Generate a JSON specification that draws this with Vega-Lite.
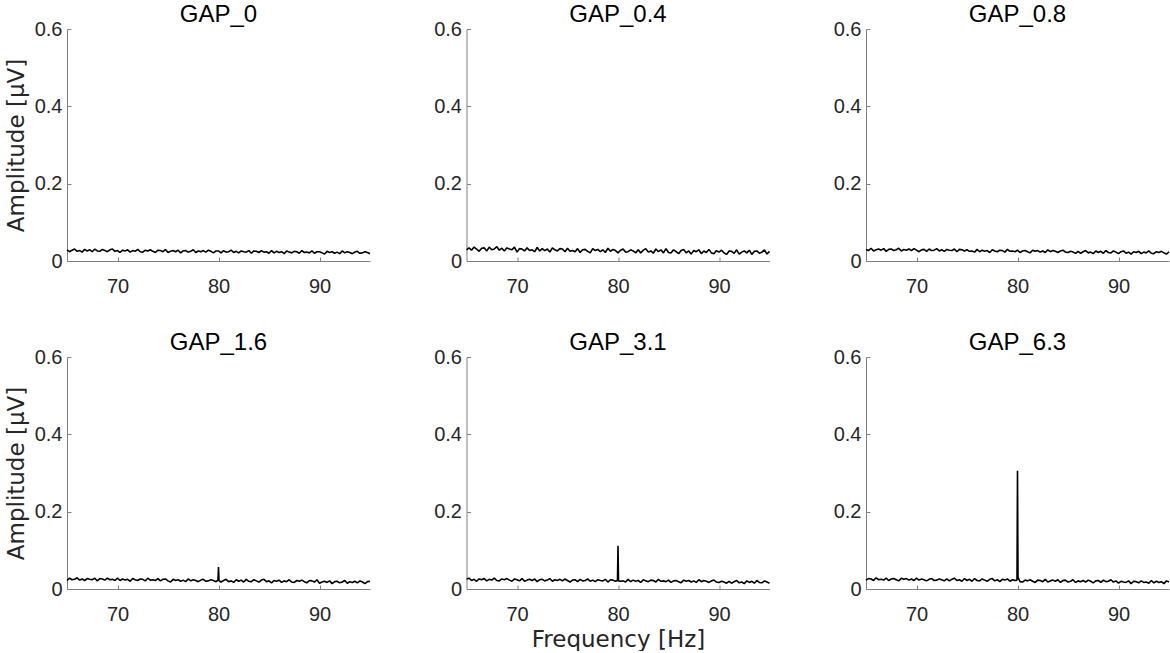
{
  "$schema": "https://vega.github.io/schema/vega-lite/v6.json",
  "background": "white",
  "padding": {"left": 5, "top": 3, "right": 0, "bottom": 0},
  "datasets": {
    "g0": [
      {"f":65,"a":0.029},{"f":65.25,"a":0.024},{"f":65.5,"a":0.028},{"f":65.75,"a":0.031},{"f":66,"a":0.025},{"f":66.25,"a":0.027},{"f":66.5,"a":0.023},{"f":66.75,"a":0.030},{"f":67,"a":0.026},{"f":67.25,"a":0.029},{"f":67.5,"a":0.024},{"f":67.75,"a":0.031},{"f":68,"a":0.026},{"f":68.25,"a":0.025},{"f":68.5,"a":0.030},{"f":68.75,"a":0.027},{"f":69,"a":0.024},{"f":69.25,"a":0.029},{"f":69.5,"a":0.031},{"f":69.75,"a":0.025},
      {"f":70,"a":0.027},{"f":70.25,"a":0.022},{"f":70.5,"a":0.028},{"f":70.75,"a":0.026},{"f":71,"a":0.029},{"f":71.25,"a":0.023},{"f":71.5,"a":0.027},{"f":71.75,"a":0.025},{"f":72,"a":0.030},{"f":72.25,"a":0.024},{"f":72.5,"a":0.023},{"f":72.75,"a":0.028},{"f":73,"a":0.026},{"f":73.25,"a":0.029},{"f":73.5,"a":0.025},{"f":73.75,"a":0.022},{"f":74,"a":0.028},{"f":74.25,"a":0.027},{"f":74.5,"a":0.024},{"f":74.75,"a":0.030},
      {"f":75,"a":0.022},{"f":75.25,"a":0.025},{"f":75.5,"a":0.027},{"f":75.75,"a":0.024},{"f":76,"a":0.028},{"f":76.25,"a":0.021},{"f":76.5,"a":0.026},{"f":76.75,"a":0.027},{"f":77,"a":0.023},{"f":77.25,"a":0.025},{"f":77.5,"a":0.029},{"f":77.75,"a":0.022},{"f":78,"a":0.026},{"f":78.25,"a":0.024},{"f":78.5,"a":0.027},{"f":78.75,"a":0.023},{"f":79,"a":0.028},{"f":79.25,"a":0.025},{"f":79.5,"a":0.021},{"f":79.75,"a":0.026},
      {"f":80,"a":0.026},{"f":80.25,"a":0.021},{"f":80.5,"a":0.027},{"f":80.75,"a":0.023},{"f":81,"a":0.024},{"f":81.25,"a":0.028},{"f":81.5,"a":0.022},{"f":81.75,"a":0.025},{"f":82,"a":0.021},{"f":82.25,"a":0.026},{"f":82.5,"a":0.024},{"f":82.75,"a":0.023},{"f":83,"a":0.027},{"f":83.25,"a":0.020},{"f":83.5,"a":0.026},{"f":83.75,"a":0.025},{"f":84,"a":0.022},{"f":84.25,"a":0.027},{"f":84.5,"a":0.023},{"f":84.75,"a":0.024},
      {"f":85,"a":0.020},{"f":85.25,"a":0.027},{"f":85.5,"a":0.021},{"f":85.75,"a":0.025},{"f":86,"a":0.022},{"f":86.25,"a":0.024},{"f":86.5,"a":0.019},{"f":86.75,"a":0.026},{"f":87,"a":0.023},{"f":87.25,"a":0.021},{"f":87.5,"a":0.025},{"f":87.75,"a":0.024},{"f":88,"a":0.020},{"f":88.25,"a":0.027},{"f":88.5,"a":0.022},{"f":88.75,"a":0.023},{"f":89,"a":0.021},{"f":89.25,"a":0.026},{"f":89.5,"a":0.020},{"f":89.75,"a":0.024},
      {"f":90,"a":0.024},{"f":90.25,"a":0.021},{"f":90.5,"a":0.018},{"f":90.75,"a":0.025},{"f":91,"a":0.022},{"f":91.25,"a":0.024},{"f":91.5,"a":0.020},{"f":91.75,"a":0.023},{"f":92,"a":0.019},{"f":92.25,"a":0.026},{"f":92.5,"a":0.021},{"f":92.75,"a":0.024},{"f":93,"a":0.022},{"f":93.25,"a":0.019},{"f":93.5,"a":0.023},{"f":93.75,"a":0.025},{"f":94,"a":0.020},{"f":94.25,"a":0.021},{"f":94.5,"a":0.024},{"f":94.75,"a":0.022},{"f":95,"a":0.019}
    ],
    "g04": [
      {"f":65,"a":0.029},{"f":65.25,"a":0.034},{"f":65.5,"a":0.028},{"f":65.75,"a":0.036},{"f":66,"a":0.031},{"f":66.25,"a":0.025},{"f":66.5,"a":0.033},{"f":66.75,"a":0.034},{"f":67,"a":0.026},{"f":67.25,"a":0.036},{"f":67.5,"a":0.029},{"f":67.75,"a":0.031},{"f":68,"a":0.037},{"f":68.25,"a":0.028},{"f":68.5,"a":0.033},{"f":68.75,"a":0.026},{"f":69,"a":0.034},{"f":69.25,"a":0.031},{"f":69.5,"a":0.029},{"f":69.75,"a":0.036},
      {"f":70,"a":0.023},{"f":70.25,"a":0.032},{"f":70.5,"a":0.031},{"f":70.75,"a":0.026},{"f":71,"a":0.034},{"f":71.25,"a":0.027},{"f":71.5,"a":0.029},{"f":71.75,"a":0.024},{"f":72,"a":0.035},{"f":72.25,"a":0.026},{"f":72.5,"a":0.032},{"f":72.75,"a":0.027},{"f":73,"a":0.031},{"f":73.25,"a":0.023},{"f":73.5,"a":0.034},{"f":73.75,"a":0.029},{"f":74,"a":0.026},{"f":74.25,"a":0.032},{"f":74.5,"a":0.031},{"f":74.75,"a":0.024},
      {"f":75,"a":0.033},{"f":75.25,"a":0.025},{"f":75.5,"a":0.027},{"f":75.75,"a":0.024},{"f":76,"a":0.032},{"f":76.25,"a":0.022},{"f":76.5,"a":0.029},{"f":76.75,"a":0.030},{"f":77,"a":0.025},{"f":77.25,"a":0.021},{"f":77.5,"a":0.032},{"f":77.75,"a":0.027},{"f":78,"a":0.030},{"f":78.25,"a":0.024},{"f":78.5,"a":0.029},{"f":78.75,"a":0.022},{"f":79,"a":0.033},{"f":79.25,"a":0.025},{"f":79.5,"a":0.030},{"f":79.75,"a":0.027},
      {"f":80,"a":0.021},{"f":80.25,"a":0.028},{"f":80.5,"a":0.031},{"f":80.75,"a":0.023},{"f":81,"a":0.024},{"f":81.25,"a":0.029},{"f":81.5,"a":0.026},{"f":81.75,"a":0.021},{"f":82,"a":0.029},{"f":82.25,"a":0.021},{"f":82.5,"a":0.028},{"f":82.75,"a":0.032},{"f":83,"a":0.023},{"f":83.25,"a":0.026},{"f":83.5,"a":0.020},{"f":83.75,"a":0.031},{"f":84,"a":0.024},{"f":84.25,"a":0.029},{"f":84.5,"a":0.021},{"f":84.75,"a":0.032},
      {"f":85,"a":0.022},{"f":85.25,"a":0.021},{"f":85.5,"a":0.029},{"f":85.75,"a":0.024},{"f":86,"a":0.019},{"f":86.25,"a":0.027},{"f":86.5,"a":0.030},{"f":86.75,"a":0.021},{"f":87,"a":0.026},{"f":87.25,"a":0.018},{"f":87.5,"a":0.027},{"f":87.75,"a":0.024},{"f":88,"a":0.029},{"f":88.25,"a":0.019},{"f":88.5,"a":0.026},{"f":88.75,"a":0.022},{"f":89,"a":0.030},{"f":89.25,"a":0.021},{"f":89.5,"a":0.019},{"f":89.75,"a":0.027},
      {"f":90,"a":0.023},{"f":90.25,"a":0.028},{"f":90.5,"a":0.021},{"f":90.75,"a":0.017},{"f":91,"a":0.026},{"f":91.25,"a":0.025},{"f":91.5,"a":0.020},{"f":91.75,"a":0.029},{"f":92,"a":0.018},{"f":92.25,"a":0.023},{"f":92.5,"a":0.026},{"f":92.75,"a":0.021},{"f":93,"a":0.028},{"f":93.25,"a":0.017},{"f":93.5,"a":0.025},{"f":93.75,"a":0.026},{"f":94,"a":0.020},{"f":94.25,"a":0.023},{"f":94.5,"a":0.029},{"f":94.75,"a":0.018},{"f":95,"a":0.025}
    ],
    "g08": [
      {"f":65,"a":0.030},{"f":65.25,"a":0.027},{"f":65.5,"a":0.033},{"f":65.75,"a":0.026},{"f":66,"a":0.029},{"f":66.25,"a":0.031},{"f":66.5,"a":0.028},{"f":66.75,"a":0.032},{"f":67,"a":0.025},{"f":67.25,"a":0.030},{"f":67.5,"a":0.031},{"f":67.75,"a":0.027},{"f":68,"a":0.029},{"f":68.25,"a":0.033},{"f":68.5,"a":0.026},{"f":68.75,"a":0.030},{"f":69,"a":0.028},{"f":69.25,"a":0.031},{"f":69.5,"a":0.027},{"f":69.75,"a":0.032},
      {"f":70,"a":0.028},{"f":70.25,"a":0.024},{"f":70.5,"a":0.029},{"f":70.75,"a":0.030},{"f":71,"a":0.025},{"f":71.25,"a":0.031},{"f":71.5,"a":0.027},{"f":71.75,"a":0.028},{"f":72,"a":0.032},{"f":72.25,"a":0.026},{"f":72.5,"a":0.029},{"f":72.75,"a":0.025},{"f":73,"a":0.030},{"f":73.25,"a":0.028},{"f":73.5,"a":0.027},{"f":73.75,"a":0.031},{"f":74,"a":0.024},{"f":74.25,"a":0.030},{"f":74.5,"a":0.029},{"f":74.75,"a":0.026},
      {"f":75,"a":0.029},{"f":75.25,"a":0.025},{"f":75.5,"a":0.026},{"f":75.75,"a":0.023},{"f":76,"a":0.030},{"f":76.25,"a":0.024},{"f":76.5,"a":0.028},{"f":76.75,"a":0.025},{"f":77,"a":0.027},{"f":77.25,"a":0.022},{"f":77.5,"a":0.029},{"f":77.75,"a":0.026},{"f":78,"a":0.024},{"f":78.25,"a":0.028},{"f":78.5,"a":0.027},{"f":78.75,"a":0.023},{"f":79,"a":0.030},{"f":79.25,"a":0.025},{"f":79.5,"a":0.026},{"f":79.75,"a":0.024},
      {"f":80,"a":0.028},{"f":80.25,"a":0.022},{"f":80.5,"a":0.026},{"f":80.75,"a":0.027},{"f":81,"a":0.024},{"f":81.25,"a":0.021},{"f":81.5,"a":0.028},{"f":81.75,"a":0.025},{"f":82,"a":0.027},{"f":82.25,"a":0.023},{"f":82.5,"a":0.026},{"f":82.75,"a":0.022},{"f":83,"a":0.029},{"f":83.25,"a":0.024},{"f":83.5,"a":0.027},{"f":83.75,"a":0.025},{"f":84,"a":0.022},{"f":84.25,"a":0.026},{"f":84.5,"a":0.028},{"f":84.75,"a":0.023},
      {"f":85,"a":0.022},{"f":85.25,"a":0.025},{"f":85.5,"a":0.023},{"f":85.75,"a":0.020},{"f":86,"a":0.025},{"f":86.25,"a":0.020},{"f":86.5,"a":0.024},{"f":86.75,"a":0.027},{"f":87,"a":0.021},{"f":87.25,"a":0.023},{"f":87.5,"a":0.019},{"f":87.75,"a":0.026},{"f":88,"a":0.022},{"f":88.25,"a":0.025},{"f":88.5,"a":0.020},{"f":88.75,"a":0.027},{"f":89,"a":0.022},{"f":89.25,"a":0.021},{"f":89.5,"a":0.026},{"f":89.75,"a":0.023},
      {"f":90,"a":0.019},{"f":90.25,"a":0.024},{"f":90.5,"a":0.026},{"f":90.75,"a":0.020},{"f":91,"a":0.023},{"f":91.25,"a":0.018},{"f":91.5,"a":0.024},{"f":91.75,"a":0.022},{"f":92,"a":0.025},{"f":92.25,"a":0.019},{"f":92.5,"a":0.023},{"f":92.75,"a":0.021},{"f":93,"a":0.026},{"f":93.25,"a":0.020},{"f":93.5,"a":0.019},{"f":93.75,"a":0.024},{"f":94,"a":0.022},{"f":94.25,"a":0.025},{"f":94.5,"a":0.021},{"f":94.75,"a":0.018},{"f":95,"a":0.024}
    ],
    "g16": [
      {"f":65,"a":0.022},{"f":65.25,"a":0.028},{"f":65.5,"a":0.024},{"f":65.75,"a":0.025},{"f":66,"a":0.029},{"f":66.25,"a":0.023},{"f":66.5,"a":0.026},{"f":66.75,"a":0.022},{"f":67,"a":0.027},{"f":67.25,"a":0.025},{"f":67.5,"a":0.024},{"f":67.75,"a":0.028},{"f":68,"a":0.021},{"f":68.25,"a":0.027},{"f":68.5,"a":0.026},{"f":68.75,"a":0.023},{"f":69,"a":0.028},{"f":69.25,"a":0.024},{"f":69.5,"a":0.025},{"f":69.75,"a":0.022},
      {"f":70,"a":0.028},{"f":70.25,"a":0.022},{"f":70.5,"a":0.026},{"f":70.75,"a":0.023},{"f":71,"a":0.025},{"f":71.25,"a":0.020},{"f":71.5,"a":0.027},{"f":71.75,"a":0.024},{"f":72,"a":0.022},{"f":72.25,"a":0.026},{"f":72.5,"a":0.025},{"f":72.75,"a":0.021},{"f":73,"a":0.028},{"f":73.25,"a":0.023},{"f":73.5,"a":0.024},{"f":73.75,"a":0.022},{"f":74,"a":0.027},{"f":74.25,"a":0.021},{"f":74.5,"a":0.025},{"f":74.75,"a":0.026},
      {"f":75,"a":0.021},{"f":75.25,"a":0.018},{"f":75.5,"a":0.025},{"f":75.75,"a":0.022},{"f":76,"a":0.024},{"f":76.25,"a":0.020},{"f":76.5,"a":0.023},{"f":76.75,"a":0.019},{"f":77,"a":0.026},{"f":77.25,"a":0.021},{"f":77.5,"a":0.024},{"f":77.75,"a":0.022},{"f":78,"a":0.019},{"f":78.25,"a":0.023},{"f":78.5,"a":0.025},{"f":78.75,"a":0.020},{"f":79,"a":0.021},{"f":79.25,"a":0.024},{"f":79.5,"a":0.022},{"f":79.75,"a":0.019},
      {"f":79.95,"a":0.023},{"f":80,"a":0.057},{"f":80.05,"a":0.022},
      {"f":80.25,"a":0.018},{"f":80.5,"a":0.022},{"f":80.75,"a":0.025},{"f":81,"a":0.019},{"f":81.25,"a":0.021},{"f":81.5,"a":0.017},{"f":81.75,"a":0.024},{"f":82,"a":0.020},{"f":82.25,"a":0.023},{"f":82.5,"a":0.018},{"f":82.75,"a":0.025},{"f":83,"a":0.020},{"f":83.25,"a":0.019},{"f":83.5,"a":0.024},{"f":83.75,"a":0.021},{"f":84,"a":0.018},{"f":84.25,"a":0.023},{"f":84.5,"a":0.025},{"f":84.75,"a":0.019},
      {"f":85,"a":0.021},{"f":85.25,"a":0.016},{"f":85.5,"a":0.022},{"f":85.75,"a":0.020},{"f":86,"a":0.023},{"f":86.25,"a":0.017},{"f":86.5,"a":0.021},{"f":86.75,"a":0.019},{"f":87,"a":0.024},{"f":87.25,"a":0.018},{"f":87.5,"a":0.017},{"f":87.75,"a":0.022},{"f":88,"a":0.020},{"f":88.25,"a":0.023},{"f":88.5,"a":0.019},{"f":88.75,"a":0.016},{"f":89,"a":0.022},{"f":89.25,"a":0.021},{"f":89.5,"a":0.018},{"f":89.75,"a":0.024},
      {"f":90,"a":0.015},{"f":90.25,"a":0.018},{"f":90.5,"a":0.020},{"f":90.75,"a":0.017},{"f":91,"a":0.021},{"f":91.25,"a":0.014},{"f":91.5,"a":0.019},{"f":91.75,"a":0.020},{"f":92,"a":0.016},{"f":92.25,"a":0.018},{"f":92.5,"a":0.022},{"f":92.75,"a":0.015},{"f":93,"a":0.019},{"f":93.25,"a":0.017},{"f":93.5,"a":0.020},{"f":93.75,"a":0.016},{"f":94,"a":0.021},{"f":94.25,"a":0.018},{"f":94.5,"a":0.014},{"f":94.75,"a":0.019},{"f":95,"a":0.020}
    ],
    "g31": [
      {"f":65,"a":0.026},{"f":65.25,"a":0.028},{"f":65.5,"a":0.022},{"f":65.75,"a":0.025},{"f":66,"a":0.020},{"f":66.25,"a":0.026},{"f":66.5,"a":0.024},{"f":66.75,"a":0.027},{"f":67,"a":0.021},{"f":67.25,"a":0.025},{"f":67.5,"a":0.023},{"f":67.75,"a":0.028},{"f":68,"a":0.022},{"f":68.25,"a":0.021},{"f":68.5,"a":0.026},{"f":68.75,"a":0.024},{"f":69,"a":0.027},{"f":69.25,"a":0.023},{"f":69.5,"a":0.020},{"f":69.75,"a":0.026},
      {"f":70,"a":0.024},{"f":70.25,"a":0.021},{"f":70.5,"a":0.027},{"f":70.75,"a":0.020},{"f":71,"a":0.023},{"f":71.25,"a":0.025},{"f":71.5,"a":0.022},{"f":71.75,"a":0.026},{"f":72,"a":0.019},{"f":72.25,"a":0.024},{"f":72.5,"a":0.025},{"f":72.75,"a":0.021},{"f":73,"a":0.023},{"f":73.25,"a":0.027},{"f":73.5,"a":0.020},{"f":73.75,"a":0.024},{"f":74,"a":0.022},{"f":74.25,"a":0.025},{"f":74.5,"a":0.021},{"f":74.75,"a":0.026},
      {"f":75,"a":0.022},{"f":75.25,"a":0.018},{"f":75.5,"a":0.023},{"f":75.75,"a":0.024},{"f":76,"a":0.019},{"f":76.25,"a":0.025},{"f":76.5,"a":0.021},{"f":76.75,"a":0.022},{"f":77,"a":0.026},{"f":77.25,"a":0.020},{"f":77.5,"a":0.023},{"f":77.75,"a":0.019},{"f":78,"a":0.024},{"f":78.25,"a":0.022},{"f":78.5,"a":0.021},{"f":78.75,"a":0.025},{"f":79,"a":0.018},{"f":79.25,"a":0.024},{"f":79.5,"a":0.023},{"f":79.75,"a":0.020},
      {"f":79.95,"a":0.022},{"f":80,"a":0.112},{"f":80.05,"a":0.021},
      {"f":80.25,"a":0.020},{"f":80.5,"a":0.021},{"f":80.75,"a":0.018},{"f":81,"a":0.025},{"f":81.25,"a":0.019},{"f":81.5,"a":0.023},{"f":81.75,"a":0.020},{"f":82,"a":0.022},{"f":82.25,"a":0.017},{"f":82.5,"a":0.024},{"f":82.75,"a":0.021},{"f":83,"a":0.019},{"f":83.25,"a":0.023},{"f":83.5,"a":0.022},{"f":83.75,"a":0.018},{"f":84,"a":0.025},{"f":84.25,"a":0.020},{"f":84.5,"a":0.021},{"f":84.75,"a":0.019},
      {"f":85,"a":0.023},{"f":85.25,"a":0.017},{"f":85.5,"a":0.021},{"f":85.75,"a":0.022},{"f":86,"a":0.019},{"f":86.25,"a":0.016},{"f":86.5,"a":0.023},{"f":86.75,"a":0.020},{"f":87,"a":0.022},{"f":87.25,"a":0.018},{"f":87.5,"a":0.021},{"f":87.75,"a":0.017},{"f":88,"a":0.024},{"f":88.25,"a":0.019},{"f":88.5,"a":0.022},{"f":88.75,"a":0.020},{"f":89,"a":0.017},{"f":89.25,"a":0.021},{"f":89.5,"a":0.023},{"f":89.75,"a":0.018},
      {"f":90,"a":0.017},{"f":90.25,"a":0.020},{"f":90.5,"a":0.018},{"f":90.75,"a":0.015},{"f":91,"a":0.020},{"f":91.25,"a":0.015},{"f":91.5,"a":0.019},{"f":91.75,"a":0.022},{"f":92,"a":0.016},{"f":92.25,"a":0.018},{"f":92.5,"a":0.014},{"f":92.75,"a":0.021},{"f":93,"a":0.017},{"f":93.25,"a":0.020},{"f":93.5,"a":0.015},{"f":93.75,"a":0.022},{"f":94,"a":0.017},{"f":94.25,"a":0.016},{"f":94.5,"a":0.021},{"f":94.75,"a":0.018},{"f":95,"a":0.015}
    ],
    "g63": [
      {"f":65,"a":0.023},{"f":65.25,"a":0.027},{"f":65.5,"a":0.026},{"f":65.75,"a":0.022},{"f":66,"a":0.029},{"f":66.25,"a":0.024},{"f":66.5,"a":0.025},{"f":66.75,"a":0.023},{"f":67,"a":0.028},{"f":67.25,"a":0.022},{"f":67.5,"a":0.026},{"f":67.75,"a":0.027},{"f":68,"a":0.024},{"f":68.25,"a":0.021},{"f":68.5,"a":0.028},{"f":68.75,"a":0.025},{"f":69,"a":0.027},{"f":69.25,"a":0.023},{"f":69.5,"a":0.026},{"f":69.75,"a":0.022},
      {"f":70,"a":0.028},{"f":70.25,"a":0.023},{"f":70.5,"a":0.026},{"f":70.75,"a":0.024},{"f":71,"a":0.021},{"f":71.25,"a":0.025},{"f":71.5,"a":0.027},{"f":71.75,"a":0.022},{"f":72,"a":0.023},{"f":72.25,"a":0.026},{"f":72.5,"a":0.024},{"f":72.75,"a":0.021},{"f":73,"a":0.026},{"f":73.25,"a":0.021},{"f":73.5,"a":0.025},{"f":73.75,"a":0.028},{"f":74,"a":0.022},{"f":74.25,"a":0.024},{"f":74.5,"a":0.020},{"f":74.75,"a":0.027},
      {"f":75,"a":0.022},{"f":75.25,"a":0.025},{"f":75.5,"a":0.020},{"f":75.75,"a":0.027},{"f":76,"a":0.022},{"f":76.25,"a":0.021},{"f":76.5,"a":0.026},{"f":76.75,"a":0.023},{"f":77,"a":0.020},{"f":77.25,"a":0.025},{"f":77.5,"a":0.027},{"f":77.75,"a":0.021},{"f":78,"a":0.024},{"f":78.25,"a":0.019},{"f":78.5,"a":0.025},{"f":78.75,"a":0.023},{"f":79,"a":0.026},{"f":79.25,"a":0.020},{"f":79.5,"a":0.024},{"f":79.75,"a":0.022},
      {"f":79.95,"a":0.023},{"f":80,"a":0.306},{"f":80.05,"a":0.030},
      {"f":80.25,"a":0.019},{"f":80.5,"a":0.018},{"f":80.75,"a":0.023},{"f":81,"a":0.021},{"f":81.25,"a":0.024},{"f":81.5,"a":0.020},{"f":81.75,"a":0.017},{"f":82,"a":0.023},{"f":82.25,"a":0.022},{"f":82.5,"a":0.019},{"f":82.75,"a":0.025},{"f":83,"a":0.018},{"f":83.25,"a":0.021},{"f":83.5,"a":0.023},{"f":83.75,"a":0.020},{"f":84,"a":0.024},{"f":84.25,"a":0.017},{"f":84.5,"a":0.022},{"f":84.75,"a":0.023},
      {"f":85,"a":0.018},{"f":85.25,"a":0.020},{"f":85.5,"a":0.024},{"f":85.75,"a":0.017},{"f":86,"a":0.021},{"f":86.25,"a":0.019},{"f":86.5,"a":0.022},{"f":86.75,"a":0.018},{"f":87,"a":0.023},{"f":87.25,"a":0.020},{"f":87.5,"a":0.016},{"f":87.75,"a":0.021},{"f":88,"a":0.022},{"f":88.25,"a":0.017},{"f":88.5,"a":0.023},{"f":88.75,"a":0.019},{"f":89,"a":0.020},{"f":89.25,"a":0.024},{"f":89.5,"a":0.018},{"f":89.75,"a":0.021},
      {"f":90,"a":0.015},{"f":90.25,"a":0.020},{"f":90.5,"a":0.018},{"f":90.75,"a":0.017},{"f":91,"a":0.021},{"f":91.25,"a":0.014},{"f":91.5,"a":0.020},{"f":91.75,"a":0.019},{"f":92,"a":0.016},{"f":92.25,"a":0.021},{"f":92.5,"a":0.017},{"f":92.75,"a":0.018},{"f":93,"a":0.015},{"f":93.25,"a":0.022},{"f":93.5,"a":0.016},{"f":93.75,"a":0.020},{"f":94,"a":0.017},{"f":94.25,"a":0.019},{"f":94.5,"a":0.014},{"f":94.75,"a":0.021},{"f":95,"a":0.018}
    ]
  },
  "columns": 3,
  "spacing": {"row": 96, "column": 96.5},
  "bounds": "flush",
  "concat": [
    {
      "data": {"name": "g0"},
      "title": "GAP_0",
      "width": 303, "height": 232,
      "mark": {"type": "line", "color": "black", "strokeWidth": 1.6, "strokeJoin": "bevel"},
      "encoding": {
        "x": {"field": "f", "type": "quantitative", "scale": {"domain": [65, 95]}, "axis": {"values": [70, 80, 90], "title": null}},
        "y": {"field": "a", "type": "quantitative", "scale": {"domain": [0, 0.6]}, "axis": {"values": [0, 0.2, 0.4, 0.6], "format": "~g", "title": "Amplitude [μV]"}}
      }
    },
    {
      "data": {"name": "g04"},
      "title": "GAP_0.4",
      "width": 303, "height": 232,
      "mark": {"type": "line", "color": "black", "strokeWidth": 1.6, "strokeJoin": "bevel"},
      "encoding": {
        "x": {"field": "f", "type": "quantitative", "scale": {"domain": [65, 95]}, "axis": {"values": [70, 80, 90], "title": null}},
        "y": {"field": "a", "type": "quantitative", "scale": {"domain": [0, 0.6]}, "axis": {"values": [0, 0.2, 0.4, 0.6], "format": "~g", "title": null}}
      }
    },
    {
      "data": {"name": "g08"},
      "title": "GAP_0.8",
      "width": 303, "height": 232,
      "mark": {"type": "line", "color": "black", "strokeWidth": 1.6, "strokeJoin": "bevel"},
      "encoding": {
        "x": {"field": "f", "type": "quantitative", "scale": {"domain": [65, 95]}, "axis": {"values": [70, 80, 90], "title": null}},
        "y": {"field": "a", "type": "quantitative", "scale": {"domain": [0, 0.6]}, "axis": {"values": [0, 0.2, 0.4, 0.6], "format": "~g", "title": null}}
      }
    },
    {
      "data": {"name": "g16"},
      "title": "GAP_1.6",
      "width": 303, "height": 232,
      "mark": {"type": "line", "color": "black", "strokeWidth": 1.6, "strokeJoin": "bevel"},
      "encoding": {
        "x": {"field": "f", "type": "quantitative", "scale": {"domain": [65, 95]}, "axis": {"values": [70, 80, 90], "title": null}},
        "y": {"field": "a", "type": "quantitative", "scale": {"domain": [0, 0.6]}, "axis": {"values": [0, 0.2, 0.4, 0.6], "format": "~g", "title": "Amplitude [μV]"}}
      }
    },
    {
      "data": {"name": "g31"},
      "title": "GAP_3.1",
      "width": 303, "height": 232,
      "mark": {"type": "line", "color": "black", "strokeWidth": 1.6, "strokeJoin": "bevel"},
      "encoding": {
        "x": {"field": "f", "type": "quantitative", "scale": {"domain": [65, 95]}, "axis": {"values": [70, 80, 90], "title": "Frequency [Hz]"}},
        "y": {"field": "a", "type": "quantitative", "scale": {"domain": [0, 0.6]}, "axis": {"values": [0, 0.2, 0.4, 0.6], "format": "~g", "title": null}}
      }
    },
    {
      "data": {"name": "g63"},
      "title": "GAP_6.3",
      "width": 303, "height": 232,
      "mark": {"type": "line", "color": "black", "strokeWidth": 1.6, "strokeJoin": "bevel"},
      "encoding": {
        "x": {"field": "f", "type": "quantitative", "scale": {"domain": [65, 95]}, "axis": {"values": [70, 80, 90], "title": null}},
        "y": {"field": "a", "type": "quantitative", "scale": {"domain": [0, 0.6]}, "axis": {"values": [0, 0.2, 0.4, 0.6], "format": "~g", "title": null}}
      }
    }
  ],
  "config": {
    "view": {"stroke": null},
    "font": "Liberation Sans",
    "axis": {
      "grid": false,
      "domainColor": "#808080",
      "domainWidth": 1,
      "tickColor": "#808080",
      "tickSize": -4,
      "labelFont": "Liberation Sans",
      "labelFontSize": 20,
      "labelColor": "#262626",
      "labelFlush": false,
      "titleFont": "DejaVu Sans",
      "titleFontSize": 23,
      "titleFontWeight": "normal",
      "titleColor": "#262626"
    },
    "axisX": {"labelPadding": 19, "titlePadding": 4},
    "axisY": {"labelPadding": 9, "titlePadding": 6},
    "title": {
      "font": "Liberation Sans",
      "fontSize": 24,
      "fontWeight": "normal",
      "color": "black",
      "frame": "group",
      "anchor": "middle",
      "baseline": "alphabetic",
      "offset": -8
    }
  }
}
